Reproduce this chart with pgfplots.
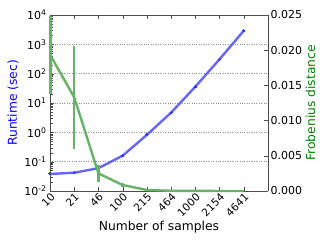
\documentclass[border=0pt]{standalone}
\usepackage{pgfplots}
\pgfplotsset{compat=1.18}
\usepackage{fontspec}
\setmainfont{DejaVu Sans}
\definecolor{mblue}{rgb}{0.4,0.4,1}
\definecolor{mgreen}{rgb}{0.4,0.7,0.4}
\definecolor{lblue}{rgb}{0,0,1}
\definecolor{lgreen}{rgb}{0,0.5,0}
\begin{document}
\begin{tikzpicture}
\pgfplotsset{every axis/.append style={
  scale only axis, width=218pt, height=176pt,
  font=\fontsize{11}{13}\selectfont,
  axis line style={black!70},
  tick style={black!70},
  /pgf/number format/assume math mode=true}}
\begin{axis}[
  xmode=log, ymode=log,
  xmin=10, xmax=10000, ymin=1e-2, ymax=1e4,
  axis y line*=left,
  xtick={10,21.54,46.42,100,215.4,464.2,1000,2154,4641},
  xticklabels={10,21,46,100,215,464,1000,2154,4641},
  minor xtick={},
  x tick label style={rotate=45, anchor=north east, inner sep=1pt, font=\fontsize{10.5}{12}\selectfont},
  ytick={1e-2,1e-1,1,10,100,1000,10000},
  yticklabels={10\textsuperscript{-2},10\textsuperscript{-1},10\textsuperscript{0},10\textsuperscript{1},10\textsuperscript{2},10\textsuperscript{3},10\textsuperscript{4}},
  y tick label style={font=\fontsize{11}{13}\selectfont},
  ymajorgrids, major grid style={dotted, black!45},
  xlabel={Number of samples},
  ylabel={Runtime (sec)},
  ylabel style={text=lblue, font=\fontsize{12.3}{14}\selectfont, yshift=-1pt},
  xlabel style={font=\fontsize{12.3}{14}\selectfont, yshift=1pt},
  clip=true,
]
\addplot[mblue, line width=2.4pt, mark=*, mark size=1pt, mark options={fill=blue!80, draw=blue!80, line width=0pt}] coordinates {
(10,0.038) (21.54,0.042) (46.42,0.060) (100,0.16) (215.4,0.82) (464.2,4.7) (1000,36) (2154,310) (4641,2900)};
\end{axis}
\begin{axis}[
  xmode=log, xmin=10, xmax=10000,
  ymin=0, ymax=0.025,
  axis y line*=right, axis x line=none,
  ytick={0,0.005,0.01,0.015,0.02,0.025},
  yticklabels={0.000,0.005,0.010,0.015,0.020,0.025},
  scaled y ticks=false,
  y tick label style={font=\fontsize{11}{13}\selectfont, xshift=-1pt},
  ylabel={Frobenius distance},
  ylabel style={text=lgreen, font=\fontsize{12.3}{14}\selectfont, yshift=3pt},
  clip=false,
]
\addplot[mgreen, line width=2.4pt, no marks,
  error bars/.cd, y dir=both, y explicit, error mark=none,
  error bar style={line width=2.4pt, mgreen}] coordinates {
(10.1,0.0193) +- (0,0.0055)
(21.54,0.0133) +- (0,0.0073)
(46.42,0.0025) +- (0,0.0012)
(100,0.00085) +- (0,0.0003)
(215.4,0.00014) +- (0,0.00005)
(464.2,0.00003) +- (0,0.00001)
(1000,0.00001) +- (0,0)
(2154,0.000005) +- (0,0)
(4641,0.000002) +- (0,0)};
\end{axis}
\path (-50pt,-54pt) rectangle (277pt,191pt);
\end{tikzpicture}
\end{document}
